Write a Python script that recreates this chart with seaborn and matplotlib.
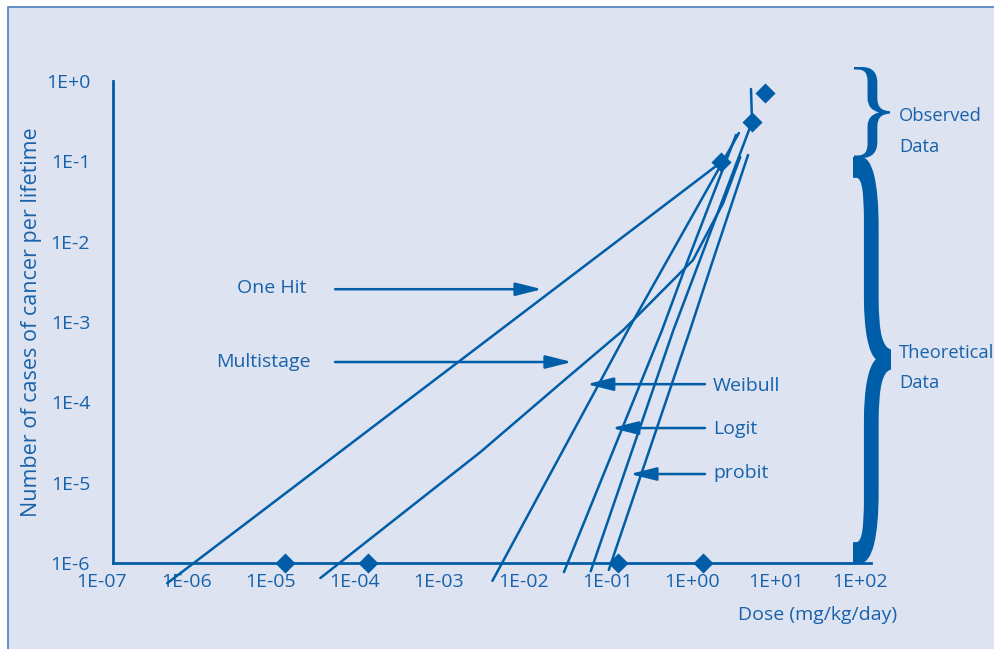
import numpy as np
import pandas as pd
import seaborn as sns
import matplotlib.pyplot as plt
from matplotlib.textpath import TextPath
from matplotlib.font_manager import FontProperties
from matplotlib.patches import PathPatch, Rectangle
from matplotlib.transforms import Affine2D, ScaledTranslation

# --- data (dose in mg/kg/day, lifetime cancer risk) ---
one_hit_dose = [4.4e-7, 1.8]
one_hit_risk = [5.6e-7, 0.104]
multistage_dose = [2.9e-5, 2.3e-3, 0.023, 0.114, 0.77, 1.75, 2.8]
multistage_risk = [6.5e-7, 2.4e-5, 1.9e-4, 7.9e-4, 5.9e-3, 0.030, 0.113]
weibull_dose = [3.2e-3, 0.13, 2.7]
weibull_risk = [6.0e-7, 7.9e-4, 0.225]
logit_dose = [0.0226, 0.33, 0.67, 2.5]
logit_risk = [7.7e-7, 7.9e-4, 5.9e-3, 0.213]
unlabelled_dose = [0.047, 0.45, 0.93, 3.87, 3.76]
unlabelled_risk = [7.9e-7, 7.9e-4, 5.9e-3, 0.309, 0.795]
probit_dose = [0.077, 0.71, 1.33, 3.47]
probit_risk = [8.2e-7, 7.9e-4, 5.9e-3, 0.12]

observed_dose = [1.1e-5, 1.07e-4, 0.1, 1.0, 1.66, 3.87, 5.5]
observed_risk = [1e-6, 1e-6, 1e-6, 1e-6, 0.098, 0.31, 0.71]

x_ticks = [1e-7, 1e-6, 1e-5, 1e-4, 1e-3, 1e-2, 1e-1, 1e0, 1e1, 1e2]
x_labels = ['1E-07', '1E-06', '1E-05', '1E-04', '1E-03', '1E-02',
            '1E-01', '1E+00', '1E+01', '1E+02']
y_ticks = [1e-6, 1e-5, 1e-4, 1e-3, 1e-2, 1e-1, 1e0]
y_labels = ['1E-6', '1E-5', '1E-4', '1E-3', '1E-2', '1E-1', '1E+0']

curves = {
    'One Hit': (one_hit_dose, one_hit_risk),
    'Multistage': (multistage_dose, multistage_risk),
    'Weibull': (weibull_dose, weibull_risk),
    'Logit': (logit_dose, logit_risk),
    'unlabelled': (unlabelled_dose, unlabelled_risk),
    'probit': (probit_dose, probit_risk),
}
df = pd.concat([pd.DataFrame({'model': k, 'dose': d, 'risk': r})
                for k, (d, r) in curves.items()], ignore_index=True)
obs = pd.DataFrame({'dose': observed_dose, 'risk': observed_risk})

BLUE = '#005ea8'
TEXT = '#1862ac'
BG = '#dde3f0'

sns.set_theme(style='white')
plt.rcParams['font.family'] = ['Open Sans', 'DejaVu Sans']

fig = plt.figure(figsize=(9.95, 6.49), dpi=100, facecolor='white')
W, H = 995, 649
fig.add_artist(Rectangle((8 / W, -0.02), 1.05, 1 - 7 / H + 0.02,
                         transform=fig.transFigure, fc=BG, ec='#4a7fc1',
                         lw=1.2, zorder=-5))
ax = fig.add_axes([113 / W, 1 - 563 / H, 758 / W, 482 / H])
ax.patch.set_visible(False)

sns.lineplot(data=df, x='dose', y='risk', units='model', estimator=None,
             sort=False, color=BLUE, lw=1.8, clip_on=False, ax=ax)
sns.scatterplot(data=obs, x='dose', y='risk', marker='D', s=105, color=BLUE,
                linewidth=0, clip_on=False, zorder=4, ax=ax)

ax.set_xscale('log')
ax.set_yscale('log')
ax.set_xlim(1e-7, 1e2)
ax.set_ylim(1e-6, 1e0)
ax.set_xticks(x_ticks)
ax.set_xticklabels(x_labels)
ax.set_yticks(y_ticks)
ax.set_yticklabels(y_labels)
ax.minorticks_off()

for s in ['top', 'right']:
    ax.spines[s].set_visible(False)
for s in ['left', 'bottom']:
    ax.spines[s].set_color(BLUE)
    ax.spines[s].set_linewidth(2)
ax.tick_params(axis='both', direction='out', length=2.5, width=2, color=BLUE,
               labelcolor=TEXT, labelsize=14)
ax.tick_params(axis='y', pad=14)
ax.tick_params(axis='x', pad=5)
for lab in ax.get_xticklabels():
    lab.set_transform(lab.get_transform() + ScaledTranslation(-0.11, 0, fig.dpi_scale_trans))

ax.set_xlabel('Dose (mg/kg/day)', color=TEXT, fontsize=14, va='center')
ax.xaxis.set_label_coords(0.929, -0.108)
ax.set_ylabel('Number of cases of cancer per lifetime', color=TEXT, fontsize=15.5, va='center')
ax.yaxis.set_label_coords(-0.107, 0.5)

# model labels with arrows (axes fraction)
arrow = dict(arrowstyle='-|>,head_length=0.8,head_width=0.2', color=BLUE, lw=1.8,
             mutation_scale=20, shrinkA=0, shrinkB=0)
ax.text(0.209, 0.560, 'One Hit', ha='center', va='baseline', color=TEXT, fontsize=14,
        transform=ax.transAxes)
ax.annotate('', xy=(0.566, 0.568), xytext=(0.293, 0.568), xycoords='axes fraction',
            arrowprops=arrow)
ax.text(0.1985, 0.4066, 'Multistage', ha='center', va='baseline', color=TEXT, fontsize=14,
        transform=ax.transAxes)
ax.annotate('', xy=(0.6055, 0.417), xytext=(0.293, 0.417), xycoords='axes fraction',
            arrowprops=arrow)
for name, yb, ya, tip in [('Weibull', 0.357, 0.371, 0.625),
                          ('Logit', 0.2676, 0.280, 0.658),
                          ('probit', 0.177, 0.1846, 0.682)]:
    ax.text(0.7916, yb, name, ha='left', va='baseline', color=TEXT, fontsize=14,
            transform=ax.transAxes)
    ax.annotate('', xy=(tip, ya), xytext=(0.781, ya), xycoords='axes fraction',
                arrowprops=arrow)


def brace(x0, y0, x1, y1, weight):
    tp = TextPath((0, 0), '}', size=100,
                  prop=FontProperties(family='Liberation Serif', weight=weight))
    ext = tp.get_extents()
    t = (Affine2D().translate(-ext.x0, -ext.y0)
         .scale((x1 - x0) / ext.width / W, (y1 - y0) / ext.height / H)
         .translate(x0 / W, 1 - y1 / H))
    fig.add_artist(PathPatch(t.transform_path(tp), fc=BLUE, ec='none',
                             transform=fig.transFigure))


brace(854, 67, 890, 158, 'normal')
brace(853, 157, 891, 563, 'bold')

for txt, yb in [('Observed', 121), ('Data', 152), ('Theoretical', 358), ('Data', 388)]:
    fig.text(899 / W, 1 - yb / H, txt, ha='left', va='baseline', color=TEXT, fontsize=13.2)

fig.savefig('out.png', dpi=100)
